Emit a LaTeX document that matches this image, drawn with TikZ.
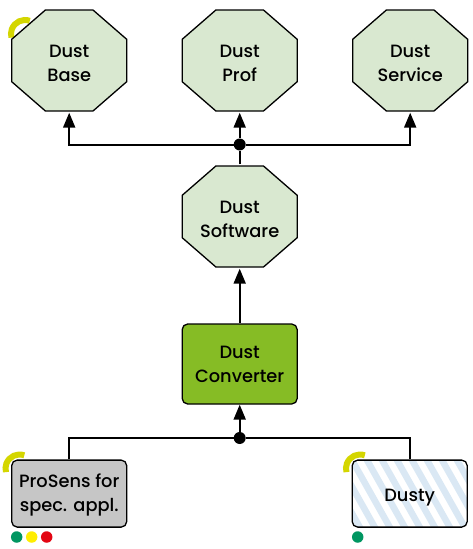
\documentclass[tikz,border=0pt]{standalone}
\usepackage{fontspec}
\setmainfont{Poppins}[UprightFont=* Medium]
\usetikzlibrary{arrows.meta,positioning}
\definecolor{octafill}{HTML}{D9E8D0}
\definecolor{convfill}{HTML}{86BC25}
\definecolor{sensfill}{HTML}{C6C6C6}
\definecolor{stripeblue}{HTML}{DAE8F4}
\definecolor{arcyellow}{HTML}{D4D600}
\definecolor{dotgreen}{HTML}{009661}
\definecolor{dotyellow}{HTML}{FFED00}
\definecolor{dotred}{HTML}{E30613}
\newcommand{\octp}[2]{([shift={(#1pt,#2pt)}]path picture bounding box.center)}
\tikzset{
  label text/.style={font=\fontsize{17.8pt}{24pt}\selectfont,align=center,text=black},
  octa/.style={label text,rectangle,inner sep=0pt,minimum width=118pt,minimum height=104pt,
    text height=42.4pt,text depth=0pt,
    path picture={
      \draw[line width=1.3pt,fill=octafill]
        \octp{-23.8}{50.5} -- \octp{23.8}{50.5} -- \octp{57.5}{21.2} -- \octp{57.5}{-21.2}
        -- \octp{23.8}{-50.5} -- \octp{-23.8}{-50.5} -- \octp{-57.5}{-21.2} -- \octp{-57.5}{21.2} -- cycle;
    }},
  softbox/.style={label text,rectangle,draw,line width=1.3pt,rounded corners=5.5pt,inner sep=0pt,
    minimum width=115pt,minimum height=67pt,text height=36.4pt,text depth=0pt},
  junction/.style={circle,fill=black,inner sep=0pt,minimum size=12pt},
  statusdot/.style={circle,inner sep=0pt,minimum size=11.5pt},
  wire/.style={line width=2pt},
  arrowwire/.style={wire,-{Triangle[length=15pt,width=12pt]}},
  ringarc/.style={arcyellow,line width=6pt},
}
\newcommand{\ringmark}[1]{\draw[ringarc] #1 ++(70:14pt) arc[start angle=70,end angle=195,radius=14pt];}
\begin{document}
\begin{tikzpicture}[node distance=170.5pt,on grid]
   \useasboundingbox (0,0) rectangle (472pt,-549pt);
   % arcs
   \ringmark{(25pt,-34pt)}
   \ringmark{(19.5pt,-468.5pt)}
   \ringmark{(360pt,-468.5pt)}
   \node[octa] (base) at (69.2pt,-60.5pt) {Dust\\Base};
   \node[octa] (prof) [right=of base] {Dust\\Prof};
   \node[octa] (service) [right=of prof] {Dust\\Service};
   \node[junction] (topjoin) [below=84pt of prof] {};
   \node[octa] (software) [below=156pt of prof] {Dust\\Software};
   \node[softbox,fill=convfill,minimum height=80pt] (converter) [below=147.5pt of software] {Dust\\Converter};
   \node[junction] (lowjoin) [below=74pt of converter] {};
   \node[softbox,fill=sensfill] (prosens) at (69.2pt,-493.6pt) {ProSens for\\spec. appl.};
   \node[softbox,fill=white,text height=15pt,path picture={
       \foreach \i in {-5,...,8}
         \draw[stripeblue,line width=6.5pt] ([xshift=\i*15pt]path picture bounding box.north west) ++(-3pt,5pt) -- ++(45pt,-80pt);
     }] (dusty) at (409.7pt,-493.6pt) {Dusty};
   % status dots
   \node[statusdot,fill=dotgreen] (dota) at (16.7pt,-537pt) {};
   \node[statusdot,fill=dotyellow] (dotb) [right=15pt of dota] {};
   \node[statusdot,fill=dotred] (dotc) [right=15pt of dotb] {};
   \node[statusdot,fill=dotgreen] (dotd) at (357.7pt,-537pt) {};
   % connectors
   \draw[arrowwire] (topjoin) -| (base);
   \draw[arrowwire] (topjoin) -| (service);
   \draw[arrowwire] (topjoin) -- (prof);
   \draw[wire] (software) -- (topjoin);
   \draw[arrowwire] (converter) -- (software);
   \draw[arrowwire] (lowjoin) -- (converter);
   \draw[wire] (prosens) |- (lowjoin);
   \draw[wire] (dusty) |- (lowjoin);
\end{tikzpicture}
\end{document}
